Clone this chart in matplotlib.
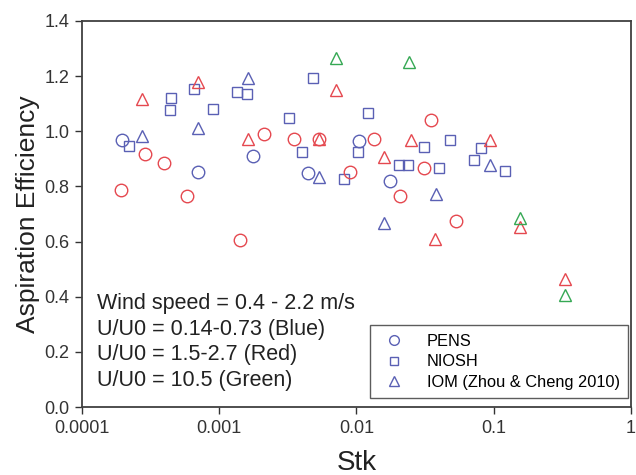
import matplotlib
matplotlib.use('Agg')
import matplotlib.pyplot as plt
from matplotlib.lines import Line2D

plt.rcParams['font.family'] = ['Liberation Sans', 'DejaVu Sans']

# Blue: U/U0 = 0.14-0.73
blue_pens_x = [0.000194, 0.000705, 0.00175, 0.00447, 0.0104, 0.01754]
blue_pens_y = [0.970, 0.851, 0.911, 0.849, 0.965, 0.820]
blue_niosh_x = [0.000219, 0.000437, 0.000447, 0.000656, 0.000893, 0.001342, 0.0016,
                0.00323, 0.00402, 0.00482, 0.00805, 0.0103, 0.0121, 0.0205, 0.0239,
                0.0308, 0.0402, 0.0478, 0.0716, 0.0805, 0.1208]
blue_niosh_y = [0.948, 1.077, 1.122, 1.152, 1.080, 1.142, 1.135,
                1.047, 0.923, 1.194, 0.826, 0.923, 1.066, 0.877, 0.879,
                0.942, 0.868, 0.969, 0.896, 0.938, 0.856]
blue_iom_x = [0.000273, 0.000705, 0.00162, 0.00537, 0.016, 0.0378, 0.094]
blue_iom_y = [0.982, 1.013, 1.193, 0.833, 0.669, 0.774, 0.878]

# Red: U/U0 = 1.5-2.7
red_pens_x = [0.000191, 0.000286, 0.000393, 0.00058, 0.00141, 0.00212, 0.00352,
              0.00531, 0.0090, 0.01343, 0.0208, 0.031, 0.0351, 0.0527]
red_pens_y = [0.786, 0.918, 0.885, 0.766, 0.607, 0.989, 0.973,
              0.972, 0.853, 0.971, 0.764, 0.867, 1.040, 0.675]
red_iom_x = [0.000273, 0.000705, 0.00163, 0.00531, 0.00706, 0.016, 0.0249,
             0.0376, 0.094, 0.155, 0.329]
red_iom_y = [1.116, 1.179, 0.973, 0.972, 1.150, 0.905, 0.967,
             0.610, 0.970, 0.652, 0.463]

# Green: U/U0 = 10.5
green_iom_x = [0.00713, 0.0243, 0.155, 0.329]
green_iom_y = [1.266, 1.252, 0.687, 0.406]

blue = '#5a60b4'
red = '#e5484f'
green = '#35a853'

fig = plt.figure(figsize=(6.36, 4.75), dpi=100)
ax = fig.add_axes([0.129, 0.143, 0.863, 0.813])

ms = dict(linestyle='none', markerfacecolor='none', markeredgewidth=1.0)
ax.plot(blue_pens_x, blue_pens_y, marker='o', markersize=9, markeredgecolor=blue, **ms)
ax.plot(blue_niosh_x, blue_niosh_y, marker='s', markersize=7.8, markeredgecolor=blue, **ms)
ax.plot(blue_iom_x, blue_iom_y, marker='^', markersize=8.5, markeredgecolor=blue, **ms)
ax.plot(red_pens_x, red_pens_y, marker='o', markersize=9, markeredgecolor=red, **ms)
ax.plot(red_iom_x, red_iom_y, marker='^', markersize=8.5, markeredgecolor=red, **ms)
ax.plot(green_iom_x, green_iom_y, marker='^', markersize=8.5, markeredgecolor=green, **ms)

ax.set_xscale('log')
ax.set_xlim(0.0001, 1)
ax.set_ylim(0, 1.4)
ax.set_xticks([0.0001, 0.001, 0.01, 0.1, 1])
ax.set_xticklabels(['0.0001', '0.001', '0.01', '0.1', '1'])
ax.minorticks_off()
ax.set_yticks([0, 0.2, 0.4, 0.6, 0.8, 1.0, 1.2, 1.4])
ax.set_yticklabels(['0.0', '0.2', '0.4', '0.6', '0.8', '1.0', '1.2', '1.4'])
ax.tick_params(direction='out', length=5, width=1, colors='#333333', labelsize=13, pad=4)
for s in ax.spines.values():
    s.set_color('#404040')
    s.set_linewidth(1.3)

ax.set_xlabel('Stk', fontsize=20, color='#222222', labelpad=10)
ax.set_ylabel('Aspiration Efficiency', fontsize=19, color='#222222', labelpad=3)

notes = ['Wind speed = 0.4 - 2.2 m/s', 'U/U0 = 0.14-0.73 (Blue)',
         'U/U0 = 1.5-2.7 (Red)', 'U/U0 = 10.5 (Green)']
for i, t in enumerate(notes):
    ax.text(0.027, 0.268 - i * 0.0665, t, transform=ax.transAxes, fontsize=15.5,
            color='#222222', va='center', ha='left')

handles = [Line2D([], [], marker='o', markersize=7, markeredgecolor=blue, **ms),
           Line2D([], [], marker='s', markersize=6, markeredgecolor=blue, **ms),
           Line2D([], [], marker='^', markersize=7, markeredgecolor=blue, **ms)]
leg = ax.legend(handles, ['PENS', 'NIOSH', 'IOM (Zhou & Cheng 2010)'],
                loc='lower right', bbox_to_anchor=(0.995, 0.023), borderaxespad=0,
                fontsize=11.8, frameon=True, fancybox=False, handlelength=2.0,
                handletextpad=1.0, labelspacing=0.35, borderpad=0.5)
leg.get_frame().set_edgecolor('#333333')
leg.get_frame().set_linewidth(1.0)

fig.savefig('out.png', dpi=100)
